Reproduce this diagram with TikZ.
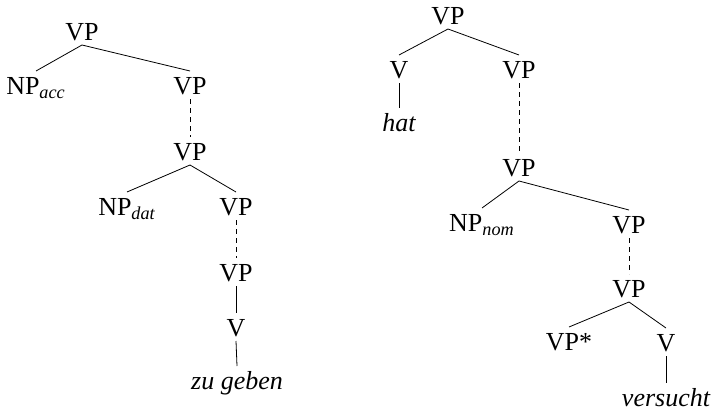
\documentclass[tikz,border=0pt]{standalone}
\usepackage{fontspec}
\setmainfont{Liberation Serif}
\begin{document}
\begin{tikzpicture}[x=0.5pt, y=-0.5pt,
    cat/.style={inner sep=2pt, text height=9.6pt, text depth=0pt, font=\fontsize{13}{15}\selectfont},
    word/.style={cat, font=\fontsize{13}{15}\selectfont\itshape},
    dom/.style={dash pattern=on 2.5pt off 2pt}]
  \useasboundingbox (0,0) rectangle (715,417);
  % left tree
  \node[cat] (l0) at (82,31) {VP};
  \node[cat] (lacc) at (36,85) {NP\textsubscript{\itshape acc}};
  \node[cat] (l1) at (190,85) {VP};
  \node[cat] (l2) at (190,151) {VP};
  \node[cat] (ldat) at (127,206) {NP\textsubscript{\itshape dat}};
  \node[cat] (l3) at (236,206) {VP};
  \node[cat] (l4) at (236,272) {VP};
  \node[cat] (lv) at (236,327) {V};
  \node[word] (lw) at (237,380) {zu geben};
  \draw (l0.south) -- (lacc.north);
  \draw (l0.south) -- (l1.north);
  \draw[dom] (l1.south) -- (l2.north);
  \draw (l2.south) -- (ldat.north);
  \draw (l2.south) -- (l3.north);
  \draw[dom] (l3.south) -- (l4.north);
  \draw (l4.south) -- (lv.north);
  \draw (lv.south) -- (lw.north);
  % right tree
  \node[cat] (r0) at (448,15) {VP};
  \node[cat] (rv) at (399,69) {V};
  \node[word] (rhat) at (399,122) {hat};
  \node[cat] (r1) at (519,69) {VP};
  \node[cat] (r2) at (519,167) {VP};
  \node[cat] (rnom) at (482,222) {NP\textsubscript{\itshape nom}};
  \node[cat] (r3) at (629,224) {VP};
  \node[cat] (r4) at (629,288) {VP};
  \node[cat] (rfoot) at (569,341) {VP*};
  \node[cat] (rv2) at (666,342) {V};
  \node[word] (rw) at (666,397) {versucht};
  \draw (r0.south) -- (rv.north);
  \draw (r0.south) -- (r1.north);
  \draw (rv.south) -- (rhat.north);
  \draw[dom] (r1.south) -- (r2.north);
  \draw (r2.south) -- (rnom.north);
  \draw (r2.south) -- (r3.north);
  \draw[dom] (r3.south) -- (r4.north);
  \draw (r4.south) -- (rfoot.north);
  \draw (r4.south) -- (rv2.north);
  \draw (rv2.south) -- (rw.north);
\end{tikzpicture}
\end{document}
